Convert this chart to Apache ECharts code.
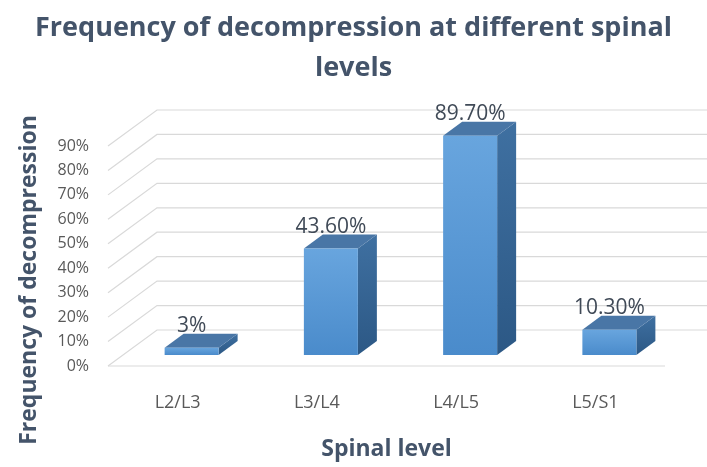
<!DOCTYPE html>
<html>
<head>
<meta charset="utf-8">
<style>
  html, body { margin: 0; padding: 0; background: #ffffff; }
  #chart { width: 707px; height: 467px; }
</style>
<script src="https://cdn.jsdelivr.net/npm/echarts@6/dist/echarts.min.js"></script>
</head>
<body>
<div id="chart"></div>
<script>
// Spinal levels and the share of decompressions at each one (%)
const categories = ['L2/L3', 'L3/L4', 'L4/L5', 'L5/S1'];
const values = [3, 43.6, 89.7, 10.3];
const valueLabels = ['3%', '43.60%', '89.70%', '10.30%'];
const valueTicks = [0, 10, 20, 30, 40, 50, 60, 70, 80, 90];

const FONT = '"Open Sans", "Liberation Sans", sans-serif';
const TEXT_DARK = '#44546A';
const TEXT_GRAY = '#595959';

// oblique "3-D" projection: offset from the front plane to the back wall
const WALL_DX = 49, WALL_DY = -36;
// bar placement inside the depth, and the depth of each bar
const BAR_OX = 14, BAR_OY = -11;
const BAR_DX = 19, BAR_DY = -14;
const BAR_W = 54;

const chart = echarts.init(document.getElementById('chart'), null, { renderer: 'canvas' });

function gridRender(params, api) {
  const v = api.value(0);
  const cs = params.coordSys;
  const y = api.coord([0, v])[1];
  const x0 = cs.x, x1 = cs.x + cs.width;
  const style = { stroke: '#D9D9D9', lineWidth: 1.2, fill: null };
  const children = [{
    type: 'polyline',
    shape: { points: [[x0, y], [x0 + WALL_DX, y + WALL_DY], [x1 + WALL_DX, y + WALL_DY]] },
    style: style
  }];
  if (v === 0) {
    children.push({ type: 'line', shape: { x1: x0, y1: y, x2: x1, y2: y }, style: style });
  }
  return { type: 'group', children: children };
}

function barRender(params, api) {
  const i = api.value(0);
  const v = api.value(1);
  const base = api.coord([i, 0]);
  const top = api.coord([i, v]);
  const xl = base[0] + BAR_OX - BAR_W / 2;
  const xr = xl + BAR_W;
  const yb = base[1] + BAR_OY;
  const yt = top[1] + BAR_OY;
  return {
    type: 'group',
    children: [
      {
        type: 'polygon',
        shape: { points: [[xr, yt], [xr + BAR_DX, yt + BAR_DY], [xr + BAR_DX, yb + BAR_DY], [xr, yb]] },
        style: {
          fill: new echarts.graphic.LinearGradient(0, 0, 0, 1, [
            { offset: 0, color: '#3F70A1' }, { offset: 1, color: '#2C5885' }
          ])
        }
      },
      {
        type: 'polygon',
        shape: { points: [[xl, yt], [xr, yt], [xr + BAR_DX, yt + BAR_DY], [xl + BAR_DX, yt + BAR_DY]] },
        style: { fill: '#4976A6' }
      },
      {
        type: 'rect',
        shape: { x: xl, y: yt, width: BAR_W, height: yb - yt },
        style: {
          fill: new echarts.graphic.LinearGradient(0, 0, 0, 1, [
            { offset: 0, color: '#68A5DE' }, { offset: 1, color: '#4A8BCB' }
          ])
        }
      },
      {
        type: 'text',
        x: (xl + xr) / 2,
        y: yt + BAR_DY + 3,
        style: {
          text: valueLabels[i],
          font: '21px ' + FONT,
          fill: '#404A57',
          align: 'center',
          verticalAlign: 'bottom'
        }
      }
    ]
  };
}

chart.setOption({
  backgroundColor: '#ffffff',
  animation: false,
  title: {
    text: 'Frequency of decompression at different spinal\nlevels',
    left: 'center',
    top: 3,
    textStyle: {
      fontFamily: FONT,
      fontWeight: 'bold',
      fontSize: 27,
      lineHeight: 40,
      color: TEXT_DARK
    }
  },
  grid: { left: 108, right: 42, top: 146, bottom: 101, containLabel: false },
  xAxis: {
    type: 'category',
    data: categories,
    axisLine: { show: false },
    axisTick: { show: false },
    axisLabel: { margin: 28, fontFamily: FONT, fontSize: 18, color: TEXT_GRAY },
    name: 'Spinal level',
    nameLocation: 'middle',
    nameGap: 72,
    nameTextStyle: { fontFamily: FONT, fontWeight: 'bold', fontSize: 23, color: TEXT_DARK }
  },
  yAxis: {
    type: 'value',
    min: 0,
    max: 90,
    interval: 10,
    axisLine: { show: false },
    axisTick: { show: false },
    splitLine: { show: false },
    axisLabel: { formatter: '{value}%', margin: 19, fontFamily: FONT, fontSize: 16, color: TEXT_GRAY }
  },
  graphic: [{
    type: 'text',
    x: 29,
    y: 280,
    rotation: Math.PI / 2,
    style: {
      text: 'Frequency of decompression',
      font: 'bold 23px ' + FONT,
      fill: TEXT_DARK,
      align: 'center',
      verticalAlign: 'middle'
    }
  }],
  series: [
    {
      type: 'custom',
      name: 'gridlines',
      z: 1,
      silent: true,
      renderItem: gridRender,
      data: valueTicks.map(function (t) { return [t]; }),
      encode: { y: 0 }
    },
    {
      type: 'custom',
      name: 'Frequency of decompression',
      z: 2,
      renderItem: barRender,
      data: values.map(function (v, i) { return [i, v]; }),
      encode: { x: 0, y: 1 }
    }
  ]
});
</script>
</body>
</html>
